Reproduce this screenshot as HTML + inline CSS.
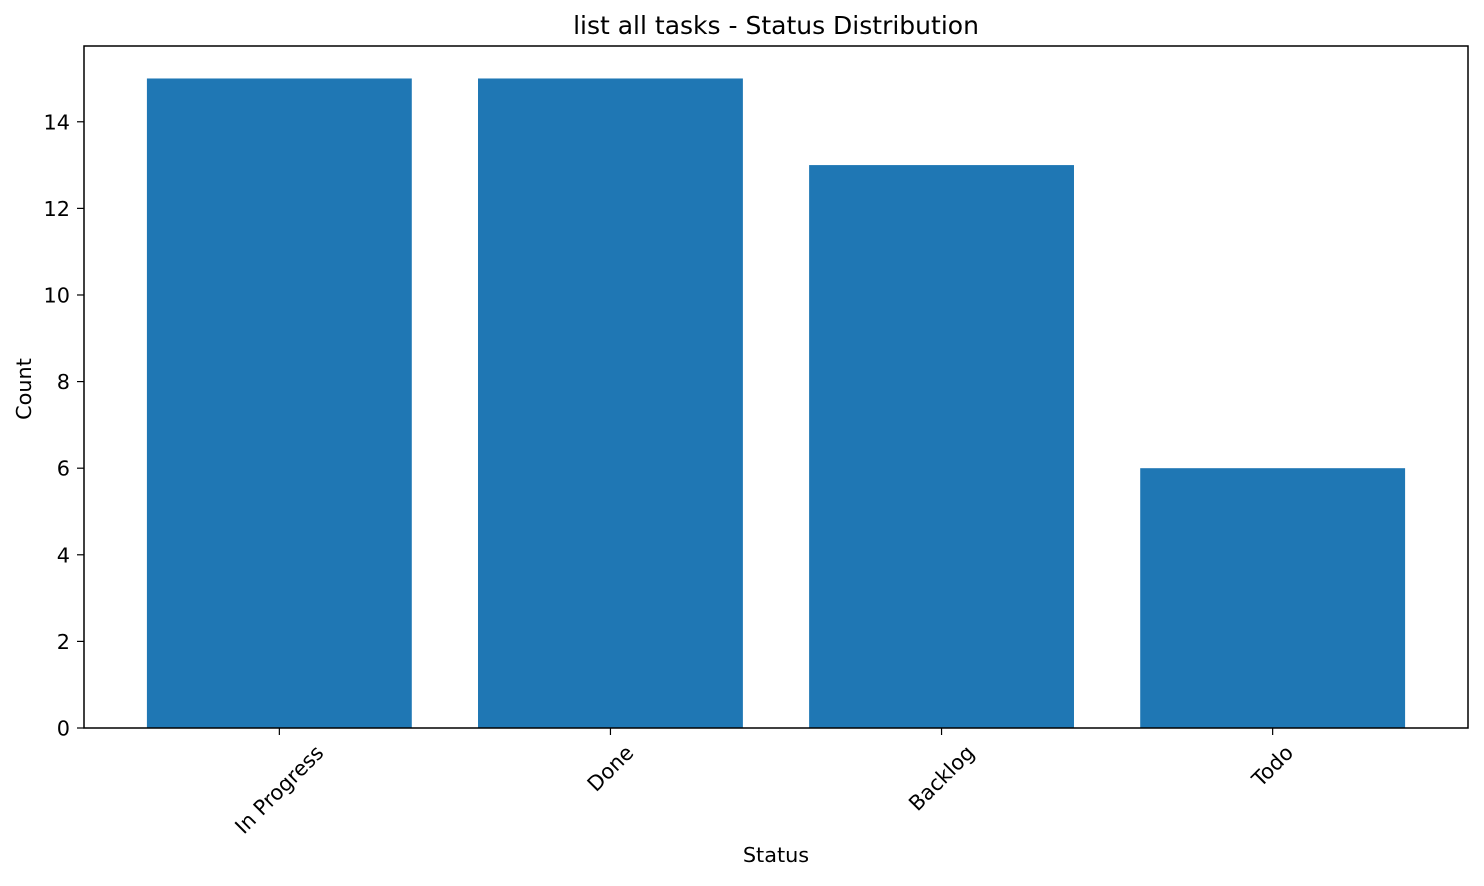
<!DOCTYPE html>
<html><head><meta charset="utf-8"><style>
html,body{margin:0;padding:0;background:#fff;}
svg text{font-family:"DejaVu Sans","Liberation Sans",sans-serif;fill:#000;}
</style></head><body>
<svg id="chart" width="1484" height="881" viewBox="0 0 1484 881" xmlns="http://www.w3.org/2000/svg">
<rect x="0" y="0" width="1484" height="881" fill="#fff"/>
<text x="776" y="34" font-size="25" text-anchor="middle">list all tasks - Status Distribution</text>
<g id="bars"></g><g id="axes"></g>
<text x="776" y="862" font-size="20.8" text-anchor="middle">Status</text>
<text x="0" y="0" font-size="20.8" text-anchor="middle" transform="translate(31,389) rotate(-90)">Count</text>
</svg>
<script>
const categories = ["In Progress", "Done", "Backlog", "Todo"];
const counts = [15, 15, 13, 6];
const yTicks = [0, 2, 4, 6, 8, 10, 12, 14];

const L = 84, R = 1468, T = 46, B = 728;
const NS = "http://www.w3.org/2000/svg";
const gBars = document.getElementById('bars');
const gAxes = document.getElementById('axes');
const maxV = Math.max(...counts) * 1.05;
const pad = 0.05 * (categories.length - 0.2);
const lo = -0.4 - pad, hi = categories.length - 1 + 0.4 + pad;
const xs = v => L + (v - lo) / (hi - lo) * (R - L);
const ys = v => B - v / maxV * (B - T);
function mk(tag, attrs, parent){const e=document.createElementNS(NS,tag);for(const k in attrs)e.setAttribute(k,attrs[k]);parent.appendChild(e);return e;}

categories.forEach((c, i) => {
  const r = mk('rect', {x: xs(i - 0.4), y: ys(counts[i]), width: xs(i + 0.4) - xs(i - 0.4), height: ys(0) - ys(counts[i]), fill: '#1f77b4'}, gBars);
  
  
});

const frame = mk('rect', {x: L, y: T, width: R - L, height: B - T, fill: 'none', stroke: '#000', 'stroke-width': 1.5}, gAxes);



yTicks.forEach(t => {
  const y = ys(t);
  const tk = mk('line', {x1: L - 7, x2: L, y1: y, y2: y, stroke: '#000', 'stroke-width': 1.2}, gAxes);
  
  
  const tx = mk('text', {x: L - 14, y: y + 7.5, 'font-size': 20.8, 'text-anchor': 'end'}, gAxes);
  tx.textContent = t;
  
  
});

categories.forEach((c, i) => {
  const x = xs(i);
  const tk = mk('line', {x1: x, x2: x, y1: B, y2: B + 7, stroke: '#000', 'stroke-width': 1.2}, gAxes);
  
  
  const tx = mk('text', {x: 0, y: 0, 'font-size': 20.8, 'text-anchor': 'middle'}, gAxes);
  tx.textContent = c;
  
  
  const w = tx.getComputedTextLength(), h = 20;
  const half = (w * Math.SQRT1_2 + h * Math.SQRT1_2) / 2;
  const cy = B + 14 + half;
  tx.setAttribute('transform', `translate(${x},${cy}) rotate(-45) translate(0,7)`);
});
</script>
</body></html>
